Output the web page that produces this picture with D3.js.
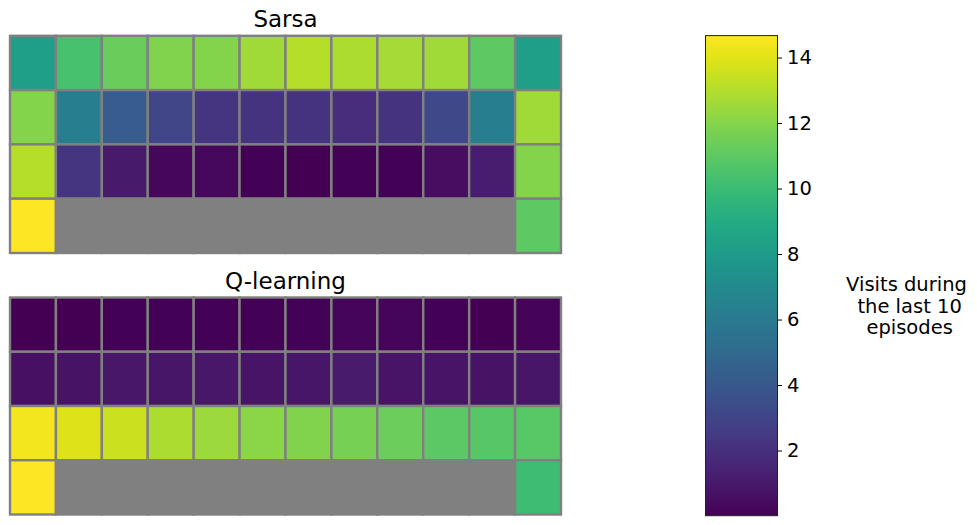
<!DOCTYPE html>
<html><head><meta charset="utf-8">
<script src="https://cdn.jsdelivr.net/npm/d3@7"></script>
<style>body{margin:0;background:#fff} svg{display:block;font-family:"DejaVu Sans",sans-serif}</style>
</head><body><svg id="c" width="977" height="525"></svg>
<script>
// ---- data ----
const titles = ["Sarsa", "Q-learning"];
const columns = [0,1,2,3,4,5,6,7,8,9,10,11];
const rows = [0,1,2,3];
const sarsaValues = [
  [8.2, 10.4, 11.3, 11.9, 11.95, 12.6, 13.05, 12.85, 12.7, 12.6, 11.05, 8.2],
  [11.95, 6.25, 4.3, 3.1, 2.25, 2.15, 2.15, 1.85, 2.15, 3.2, 6.25, 12.6],
  [13.05, 2.25, 1.0, 0.27, 0.34, 0.12, 0.05, 0.07, 0.1, 0.5, 1.15, 11.95],
  [14.67, null, null, null, null, null, null, null, null, null, null, 11.05]
];
const qValues = [
  [0.05, 0.01, 0.1, 0.1, 0.1, 0.1, 0.1, 0.2, 0.2, 0.1, 0.05, 0.15],
  [0.6, 0.7, 0.9, 0.85, 0.9, 0.8, 0.85, 1.05, 0.8, 0.8, 0.75, 0.85],
  [14.4, 13.9, 13.5, 12.85, 12.45, 12.1, 11.9, 11.6, 11.4, 11.0, 10.8, 10.85],
  [14.67, null, null, null, null, null, null, null, null, null, null, 10.1]
];
const colorTicks = [2, 4, 6, 8, 10, 12, 14];
const colorbarLabel = ["Visits during", " the last 10", " episodes"];

// ---- drawing ----
const svg = d3.select("#c");
const all = sarsaValues.flat().concat(qValues.flat()).filter(v => v !== null);
const vmin = d3.min(all), vmax = d3.max(all);
const color = d3.scaleSequential(d3.interpolateViridis).domain([vmin, vmax]);
const GRAY = "#808080";

const x = d3.scaleBand().domain(columns).range([10, 561]);
const panels = [
  {title: titles[0], values: sarsaValues, top: 35.8, bottom: 253},
  {title: titles[1], values: qValues, top: 297.5, bottom: 514.5}
];

panels.forEach(p => {
  const y = d3.scaleBand().domain(rows).range([p.top, p.bottom]);
  const g = svg.append("g");
  const cells = [];
  p.values.forEach((row, r) => row.forEach((v, c) => cells.push({r, c, v})));
  g.selectAll("rect").data(cells).join("rect")
    .attr("x", d => x(d.c)).attr("y", d => y(d.r))
    .attr("width", x.bandwidth()).attr("height", y.bandwidth())
    .attr("fill", d => d.v === null ? GRAY : color(d.v))
    .attr("stroke", GRAY).attr("stroke-width", 2.4);
  svg.append("text")
    .attr("x", (x.range()[0] + x.range()[1]) / 2).attr("y", p.top - 8.5)
    .attr("text-anchor", "middle").attr("font-size", "23px").attr("fill", "#000")
    .text(p.title);
});

// colorbar
const cb = {x0: 705.5, x1: 777.5, top: 35.6, bottom: 515.7};
const cScale = d3.scaleLinear().domain([vmin, vmax]).range([cb.bottom, cb.top]);
const defs = svg.append("defs");
const grad = defs.append("linearGradient").attr("id", "vir")
  .attr("x1", 0).attr("y1", 1).attr("x2", 0).attr("y2", 0);
d3.range(0, 1.0001, 0.02).forEach(t => {
  grad.append("stop").attr("offset", t).attr("stop-color", d3.interpolateViridis(t));
});
svg.append("rect").attr("x", cb.x0).attr("y", cb.top)
  .attr("width", cb.x1 - cb.x0).attr("height", cb.bottom - cb.top)
  .attr("fill", "url(#vir)").attr("stroke", "#222").attr("stroke-width", 1);

const axis = d3.axisRight(cScale).tickValues(colorTicks).tickSize(4.5).tickPadding(5)
  .tickFormat(d3.format("d"));
const ag = svg.append("g").attr("transform", `translate(${cb.x1},0)`).call(axis);
ag.select(".domain").remove();
ag.selectAll("text").attr("font-size", "19.5px").attr("fill", "#000")
  .attr("font-family", '"DejaVu Sans",sans-serif');
ag.selectAll("line").attr("stroke", "#000").attr("stroke-width", 1);

const lab = svg.append("text").attr("font-size", "19.5px").attr("fill", "#000")
  .attr("text-anchor", "middle").attr("xml:space", "preserve").style("white-space", "pre");
colorbarLabel.forEach((s, i) => {
  lab.append("tspan").attr("x", 906.5).attr("y", 290.7 + i * 21.8).text(s);
});
</script></body></html>
